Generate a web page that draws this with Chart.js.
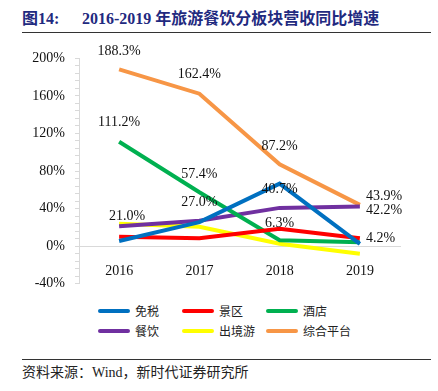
<!DOCTYPE html>
<html>
<head>
<meta charset="utf-8">
<script src="https://cdn.jsdelivr.net/npm/chart.js@4.4.1/dist/chart.umd.min.js"></script>
<style>
  body { margin: 0; background: #fff; }
  #wrap { position: relative; width: 438px; height: 391px; overflow: hidden; }
  #title { position: absolute; left: 22px; top: 5px; font: bold 16px "Liberation Serif", "Noto Sans CJK SC", serif; color: #1f2a80; white-space: nowrap; }
  #title .num { display: inline-block; width: 60px; }
  .rule { position: absolute; left: 22px; width: 409px; height: 1px; background: #333; }
  #chartBox { position: absolute; left: 0; top: 40px; width: 438px; height: 262px; }
  #legend { position: absolute; left: 0; top: 302px; width: 438px; height: 44px; font: 12px "Noto Sans CJK SC", sans-serif; color: #222; }
  .item { position: absolute; display: flex; align-items: center; }
  .item span.swatch { display: inline-block; width: 32px; height: 4px; border-radius: 2px; margin-right: 5px; }
  #source { position: absolute; left: 22px; top: 361px; font: 14px "Liberation Serif", "Noto Sans CJK SC", serif; color: #222; }
</style>
</head>
<body>
<div id="wrap">
  <div id="title"><span class="num">图14:</span>2016-2019 年旅游餐饮分板块营收同比增速</div>
  <div class="rule" style="top:32px"></div>
  <div id="chartBox"><canvas id="chart"></canvas></div>
  <div id="legend"></div>
  <div class="rule" style="top:359px"></div>
  <div id="source">资料来源：Wind，新时代证券研究所</div>
</div>
<script>
const years = ["2016", "2017", "2018", "2019"];
const seriesNames = ["免税", "景区", "酒店", "餐饮", "出境游", "综合平台"];
const dutyFree = [5.4, 25.5, 66.5, 2.3];
const scenic = [9.8, 8.3, 18.5, 8.3];
const hotel = [111.2, 57.4, 6.3, 4.2];
const catering = [21.0, 27.0, 40.7, 42.2];
const outbound = [23.8, 20.5, 2.5, -8.2];
const platform = [188.3, 162.4, 87.2, 43.9];
const yMin = -40;
const yMax = 200;

const colors = ["#0070c0", "#ff0000", "#00b050", "#7030a0", "#ffff00", "#f79646"];
const values = [dutyFree, scenic, hotel, catering, outbound, platform];
// which series carry value labels, and where each label sits relative to its point
const labelled = { 2: true, 3: true, 5: true };
const labelPlace = {
  2: [[0, -19, "center"], [0, -18, "center"], [0, -17, "center"], [6, -4, "left"]],
  3: [[8, -10, "center"], [0, -18, "center"], [0, -19, "center"], [6, 4, "left"]],
  5: [[0, -18, "center"], [0, -19, "center"], [0, -18, "center"], [6, -9, "left"]]
};

const pointLabels = {
  id: "pointLabels",
  afterDatasetsDraw(chart) {
    const ctx = chart.ctx;
    ctx.save();
    ctx.font = "14px 'Liberation Serif', serif";
    ctx.fillStyle = "#111";
    ctx.textBaseline = "middle";
    chart.data.datasets.forEach((ds, i) => {
      if (!labelled[i]) return;
      chart.getDatasetMeta(i).data.forEach((pt, j) => {
        const [dx, dy, align] = labelPlace[i][j];
        ctx.textAlign = align;
        ctx.fillText(ds.data[j].toFixed(1) + "%", pt.x + dx, pt.y + dy);
      });
    });
    ctx.restore();
  }
};

const ctx = document.getElementById("chart").getContext("2d");
new Chart(ctx, {
  type: "line",
  data: {
    labels: years,
    datasets: seriesNames.map((name, i) => ({
      label: name,
      data: values[i],
      borderColor: colors[i],
      backgroundColor: colors[i],
      borderWidth: 4,
      pointRadius: 0,
      tension: 0,
      fill: false
    }))
  },
  options: {
    responsive: true,
    maintainAspectRatio: false,
    animation: false,
    layout: { padding: { top: 18, bottom: 8, left: 0, right: 38 } },
    plugins: { legend: { display: false }, tooltip: { enabled: false } },
    scales: {
      x: {
        position: { y: 0 },
        offset: true,
        grid: { display: false },
        border: { color: "#d9d9d9", width: 1 },
        ticks: { color: "#111", font: { family: "'Liberation Serif', serif", size: 14 }, padding: 9 }
      },
      y: {
        min: yMin,
        max: yMax,
        afterFit: (scale) => { scale.width = 79; },
        grid: { drawOnChartArea: false, color: "#d9d9d9", tickLength: 4 },
        border: { color: "#d9d9d9", width: 1 },
        ticks: {
          stepSize: 8,
          autoSkip: false,
          padding: 10,
          color: "#111",
          font: { family: "'Liberation Serif', serif", size: 14 },
          callback: (v) => (v % 40 === 0 ? v + "%" : "")
        }
      }
    }
  },
  plugins: [pointLabels]
});

// legend: 3 columns x 2 rows
const legend = document.getElementById("legend");
seriesNames.forEach((name, i) => {
  const el = document.createElement("div");
  el.className = "item";
  el.style.left = 98 + (i % 3) * 84 + "px";
  el.style.top = Math.floor(i / 3) * 20 + "px";
  el.innerHTML = '<span class="swatch" style="background:' + colors[i] + '"></span>' + name;
  legend.appendChild(el);
});
</script>
</body>
</html>
